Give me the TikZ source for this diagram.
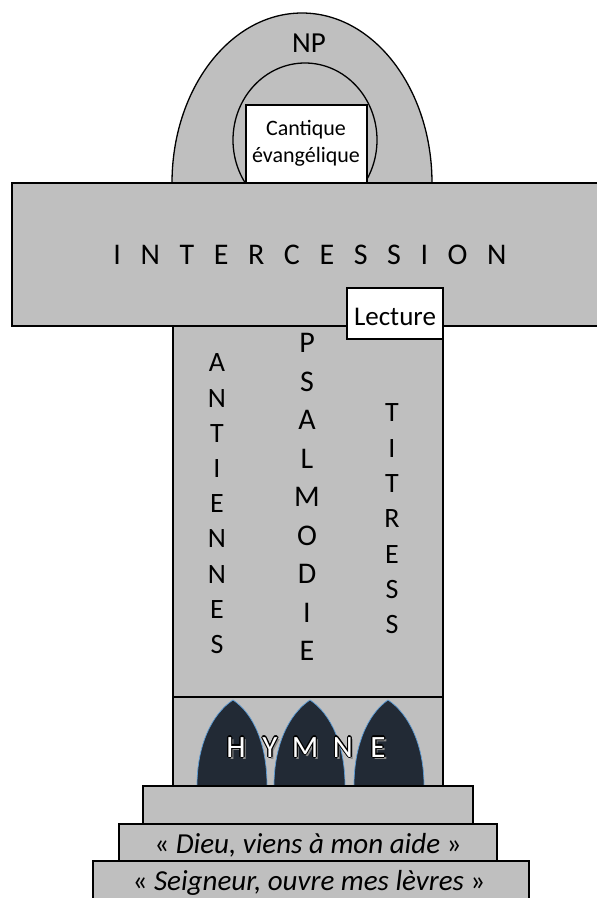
\documentclass[tikz,border=0pt]{standalone}
\usepackage{fontspec}
\setmainfont{Carlito}
\definecolor{grayfill}{HTML}{BFBFBF}
\definecolor{archdark}{HTML}{222A35}
\definecolor{archblue}{HTML}{5B9BD5}
\newcommand{\lsp}{\hspace{19.6pt}}
\begin{document}
\begin{tikzpicture}[x=1pt,y=-1pt,
  part/.style={draw=black, line width=1.3pt, fill=grayfill},
  whitebox/.style={draw=black, line width=1.3pt, fill=white},
  gothic/.style={fill=archdark, draw=archblue, line width=0.7pt},
  lbl/.style={inner sep=0pt, font=\fontsize{29}{29}\selectfont},
  colA/.style={inner sep=0pt, font=\fontsize{28}{28}\selectfont},
  colB/.style={inner sep=0pt, font=\fontsize{30}{30}\selectfont},
  hy/.style={inner sep=0pt, anchor=base, font=\fontsize{31}{31}\selectfont}]
\useasboundingbox (0,0) rectangle (597,898);
\fill[white] (0,0) rectangle (597,898);
% arches at the top
\begin{scope}
  \clip (0,0) rectangle (597,183);
  \draw[part] (302,183) ellipse [x radius=130, y radius=170];
  \draw[part] (305,140) ellipse [x radius=72, y radius=77];
\end{scope}
\draw[whitebox] (246,105) rectangle (367,190);
% cross bar and trunk
\draw[part] (12,183) rectangle (605,326);
\draw[part] (173,326) rectangle (443,697);
\draw[whitebox] (347,288) rectangle (443,339);
% hymne box and gothic arches
\draw[part] (173,697) rectangle (443,786);
\draw[gothic] (197,786) .. controls (197,745) and (212,714) .. (233,700) .. controls (254,714) and (267,745) .. (267,786) -- cycle;
\draw[gothic] (274,786) .. controls (274,745) and (289,714) .. (310,700) .. controls (331,714) and (345,745) .. (345,786) -- cycle;
\draw[gothic] (354,786) .. controls (354,745) and (368,714) .. (388,700) .. controls (409,714) and (424,745) .. (424,786) -- cycle;
% steps
\draw[part] (143,786) rectangle (473,824);
\draw[part] (119,824) rectangle (497,861);
\draw[part] (93,861) rectangle (529,900);
% texts
\node[lbl] (np) at (309,43) {NP};
\node[inner sep=0pt, align=center, font=\fontsize{22}{27}\selectfont] (cant) at (306,143) {Cantique\\évangélique};
\node[inner sep=0pt, font=\fontsize{30}{30}\selectfont] (inter) at (310,255) {I\lsp N\lsp T\lsp E\lsp R\lsp C\lsp E\lsp S\lsp S\lsp I\lsp O\lsp N};
\node[inner sep=0pt, font=\fontsize{27}{27}\selectfont] (lect) at (395,317) {Lecture};
\foreach \l [count=\i from 0] in {A,N,T,I,E,N,N,E,S}
  \node[colA] (ant\i) at (217,363+35.2*\i) {\l};
\foreach \l [count=\i from 0] in {P,S,A,L,M,O,D,I,E}
  \node[colB] (psa\i) at (307,343+38.5*\i) {\l};
\foreach \l [count=\i from 0] in {T,I,T,R,E,S,S}
  \node[colA] (tit\i) at (392,413+35.3*\i) {\l};
% HYMNE outlined letters
\foreach \x/\l [count=\i] in {236/H,270/Y,305/M,343/N,378/E}{
  \node[hy, text=black!45] at (\x+2.2,759.2) {\l};
  \foreach \dx/\dy in {1.2/0,-1.2/0,0/1.2,0/-1.2,0.85/0.85,-0.85/0.85,0.85/-0.85,-0.85/-0.85}
    \node[hy, text=black] at (\x+\dx,757+\dy) {\l};
  \node[hy, text=white] (hym\i) at (\x,757) {\l};
}
\node[inner sep=0pt, anchor=base, font=\fontsize{29}{29}\selectfont] (dieu) at (308,853) {« \textit{Dieu, viens à mon aide} »};
\node[inner sep=0pt, anchor=base, font=\fontsize{29}{29}\selectfont] (seig) at (309,890) {« \textit{Seigneur, ouvre mes lèvres} »};
\end{tikzpicture}
\end{document}
